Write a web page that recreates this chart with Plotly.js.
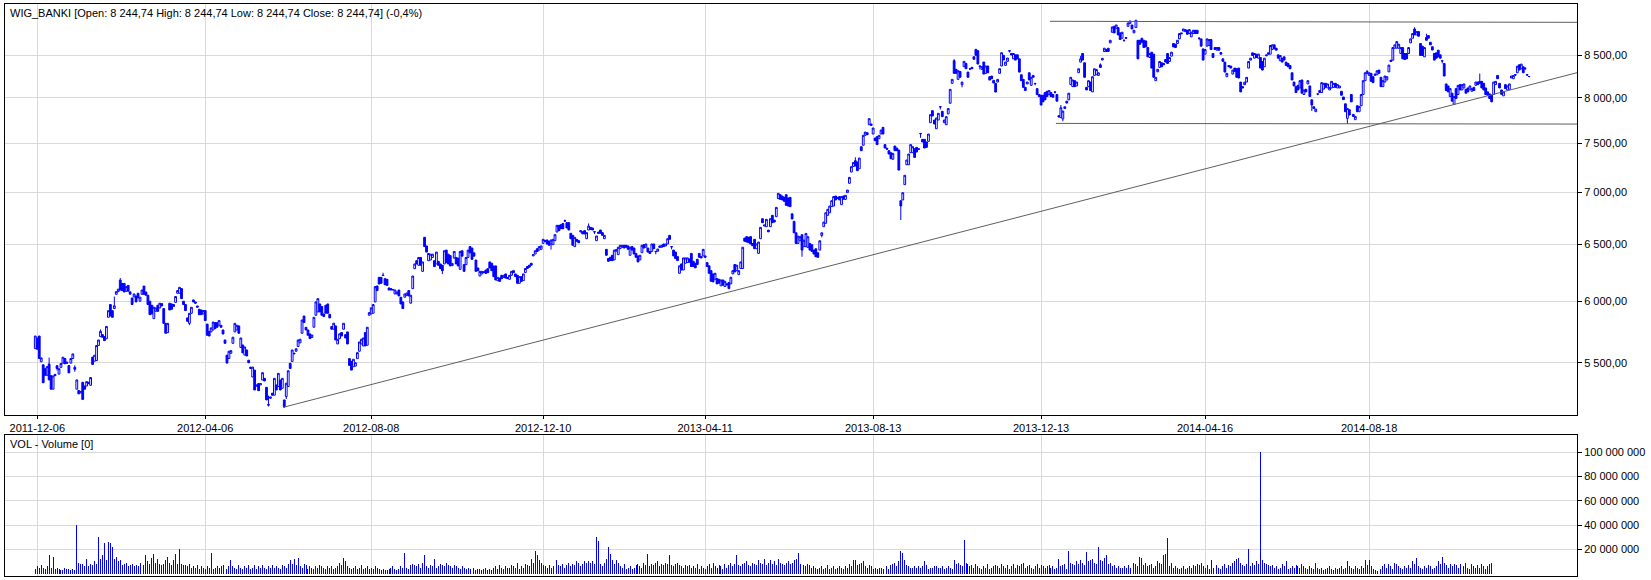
<!DOCTYPE html>
<html>
<head>
<meta charset="utf-8">
<script src="https://cdn.plot.ly/plotly-3.0.1.min.js"></script>
<style>
html,body{margin:0;padding:0;background:#fff;}
#chart{width:1651px;height:580px;}
#chart .barlayer path{shape-rendering:crispEdges !important;}
</style>
</head>
<body>
<div id="chart"></div>
<script>
// ---- tick labels (bar index of each labelled session) ----
const tickIdx = [1, 86, 170, 257, 339, 424, 509, 592, 675];
const tickLabels = ["2011-12-06","2012-04-06","2012-08-08","2012-12-10","2013-04-11","2013-08-13","2013-12-13","2014-04-16","2014-08-18"];
const priceTicks = [5500, 6000, 6500, 7000, 7500, 8000, 8500];
const volTicks = [20000000, 40000000, 60000000, 80000000, 100000000];

// ---- WIG_BANKI daily OHLC ----
const open = [
5611,5696,5712,5507,5484,5454,5403,5490,5400,5298,
5410,5477,5412,5464,5497,5533,5495,5478,5497,5533,
5464,5298,5288,5270,5350,5322,5322,5350,5327,5544,
5512,5517,5636,5707,5723,5707,5690,5865,5972,5920,
5938,6059,6082,6182,6153,6153,6085,6136,6080,6028,
6036,6045,6068,6000,6059,6130,6079,6051,6000,5966,
5854,5915,5966,5943,5980,5938,5815,5739,5983,5977,
5955,5990,6068,6068,6108,6000,5972,5860,5815,5898,
6011,5994,5960,5932,5926,5893,5921,5809,5750,5745,
5761,5821,5821,5799,5799,5761,5680,5559,5533,5574,
5653,5745,5761,5794,5620,5640,5560,5600,5520,5466,
5390,5443,5320,5340,5330,5367,5380,5312,5185,5230,
5268,5253,5330,5318,5367,5305,5218,5243,5318,5496,
5510,5575,5590,5628,5657,5734,5876,5783,5761,5729,
5700,5783,5882,5910,5977,5955,5893,5966,5977,5890,
5789,5767,5794,5648,5690,5740,5767,5723,5745,5532,
5511,5469,5474,5532,5590,5648,5632,5740,5638,5882,
5893,5899,5994,6131,6206,6206,6225,6194,6189,6114,
6108,6096,6062,6062,6096,6034,5994,6034,6050,6091,
5983,6108,6283,6354,6313,6383,6259,6568,6488,6354,
6360,6383,6354,6325,6348,6325,6313,6325,6450,6413,
6400,6310,6377,6383,6377,6277,6444,6319,6319,6383,
6482,6469,6425,6360,6289,6218,6236,6255,6271,6283,
6343,6331,6307,6307,6177,6200,6224,6206,6236,6205,
6189,6224,6265,6236,6224,6154,6212,6177,6248,6302,
6314,6331,6397,6414,6463,6450,6457,6512,6540,6543,
6531,6506,6500,6537,6617,6680,6686,6698,6724,6705,
6705,6605,6586,6482,6549,6537,6617,6620,6630,6555,
6636,6661,6655,6620,6537,6617,6636,6611,6555,6457,
6373,6385,6403,6361,6440,6409,6463,6476,6494,6494,
6488,6403,6482,6469,6420,6397,6361,6426,6500,6476,
6469,6438,6438,6506,6438,6440,6488,6476,6506,6488,
6506,6586,6482,6450,6432,6391,6242,6325,6271,6331,
6337,6370,6420,6349,6331,6367,6420,6391,6397,6397,
6337,6308,6265,6236,6189,6195,6189,6132,6183,6126,
6150,6161,6149,6236,6320,6265,6230,6284,6284,6561,
6574,6568,6574,6510,6549,6463,6420,6555,6743,6673,
6667,6635,6667,6775,6730,6762,6937,6976,6963,6950,
6976,6943,6950,6790,6718,6610,6511,6536,6592,6481,
6481,6475,6511,6499,6450,6462,6426,6450,6585,6667,
6699,6775,6800,6859,6865,6963,6950,6957,6878,6963,
6930,6996,7089,7203,7260,7320,7306,7237,7466,7481,
7587,7615,7702,7710,7601,7558,7573,7551,7601,7673,
7488,7450,7424,7403,7334,7473,7452,7431,6917,6924,
7076,7278,7278,7403,7403,7445,7459,7445,7608,7544,
7544,7516,7523,7724,7856,7753,7658,7753,7901,7849,
7724,7702,7820,7939,8166,8432,8329,8212,8305,8151,
8361,8400,8297,8337,8353,8480,8568,8552,8369,8329,
8416,8282,8369,8243,8251,8200,8166,8181,8282,8369,
8496,8376,8424,8552,8520,8454,8502,8502,8454,8266,
8212,8120,8159,8289,8143,8258,8166,8105,8015,8030,
8030,8060,8075,8038,8060,8038,8068,8038,7801,7779,
7765,7880,7963,7978,8151,8128,8197,8136,8290,8415,
8518,8407,8120,8128,8181,8068,8258,8266,8258,8383,
8440,8542,8542,8582,8647,8778,8852,8827,8836,8770,
8704,8680,8712,8852,8886,8869,8770,8836,8679,8679,
8704,8679,8671,8590,8470,8534,8510,8197,8300,8352,
8407,8399,8446,8518,8423,8486,8639,8631,8639,8696,
8770,8794,8786,8803,8762,8721,8762,8803,8803,8706,
8696,8574,8510,8607,8615,8688,8518,8590,8558,8590,
8530,8454,8415,8243,8375,8368,8274,8344,8336,8344,
8181,8128,8150,8181,8344,8439,8526,8462,8510,8462,
8470,8423,8360,8490,8526,8510,8567,8623,8582,8502,
8431,8462,8478,8415,8399,8375,8289,8181,8128,8143,
8113,8205,8038,8098,8159,8136,7978,7900,7845,8045,
8083,8060,8100,8166,8113,8090,8113,8120,8166,8113,
8113,8075,8010,7933,7771,7867,8038,7815,7757,7911,
7845,7911,8038,8197,8282,8258,8282,8243,8258,8266,
8321,8236,8128,8181,8205,8300,8438,8438,8582,8582,
8582,8518,8590,8518,8518,8518,8647,8704,8819,8745,
8786,8639,8607,8478,8712,8737,8655,8600,8518,8526,
8558,8502,8431,8399,8159,8136,8015,8053,7926,8105,
8038,8151,8090,8113,8098,8113,8098,8075,8120,8143,
8181,8189,8189,8166,8113,8068,8045,8030,8038,8151,
8258,8166,8090,8023,8151,8090,8098,8228,8220,8266,
8289,8383,8336,8360,8344,8266,8245];

const close = [
5712,5606,5533,5538,5347,5403,5470,5368,5298,5398,
5400,5456,5454,5494,5543,5492,5505,5422,5533,5569,
5449,5368,5263,5280,5222,5298,5355,5340,5386,5487,
5559,5636,5680,5750,5702,5675,5790,5920,5876,5865,
5961,6082,6103,6096,6091,6079,6125,6085,6060,5972,
6062,5994,6028,6034,6096,6059,6051,5972,5887,5893,
5949,5943,5915,5983,5960,5815,5734,5815,5926,5932,
5972,6040,6091,6119,6022,5972,5921,5832,5898,5949,
5994,5983,5950,5887,5887,5921,5838,5718,5712,5778,
5826,5772,5783,5838,5783,5728,5653,5497,5590,5595,
5702,5815,5799,5734,5696,5577,5624,5553,5500,5455,
5466,5292,5330,5287,5340,5423,5360,5218,5180,5240,
5253,5380,5292,5418,5292,5380,5167,5343,5438,5455,
5600,5570,5610,5680,5686,5843,5822,5761,5718,5691,
5720,5865,5994,6022,5910,5882,5871,5899,5899,5860,
5767,5816,5680,5686,5730,5712,5816,5696,5648,5479,
5443,5527,5500,5579,5664,5686,5696,5632,5783,5904,
5944,5972,6125,6091,6148,6154,6222,6142,6136,6096,
6096,6100,6096,6079,6045,5977,5938,6062,6070,6045,
6051,6218,6325,6325,6383,6313,6343,6482,6432,6419,
6413,6413,6301,6432,6313,6283,6265,6444,6337,6325,
6307,6330,6438,6325,6307,6438,6395,6259,6383,6450,
6425,6366,6395,6259,6265,6259,6259,6250,6241,6247,
6289,6265,6212,6183,6206,6171,6194,6224,6200,6195,
6224,6259,6247,6212,6154,6212,6171,6236,6284,6284,
6296,6314,6409,6444,6438,6482,6488,6549,6530,6506,
6494,6543,6549,6592,6680,6630,6648,6648,6720,6655,
6636,6555,6494,6568,6531,6518,6630,6600,6599,6611,
6673,6642,6636,6618,6580,6605,6605,6586,6586,6403,
6349,6355,6355,6450,6455,6476,6494,6494,6469,6476,
6457,6476,6450,6414,6385,6343,6403,6494,6469,6506,
6432,6420,6506,6463,6436,6460,6476,6494,6482,6506,
6555,6549,6480,6397,6373,6355,6308,6271,6379,6379,
6379,6340,6302,6302,6290,6320,6385,6379,6457,6385,
6302,6242,6172,6166,6242,6149,6155,6183,6138,6172,
6140,6108,6207,6265,6254,6314,6265,6343,6476,6531,
6524,6518,6506,6490,6463,6506,6524,6661,6705,6683,
6737,6619,6743,6705,6711,6852,6989,6930,6924,6911,
6872,6865,6859,6740,6610,6511,6579,6573,6450,6542,
6604,6573,6450,6438,6414,6390,6384,6536,6610,6711,
6800,6833,6865,6917,6957,6924,6937,6924,6957,6930,
6970,7022,7149,7258,7300,7265,7217,7347,7424,7587,
7622,7594,7768,7695,7666,7530,7488,7587,7644,7601,
7452,7440,7389,7340,7396,7424,7424,7223,6865,6996,
7170,7327,7389,7488,7466,7354,7410,7438,7605,7516,
7452,7459,7601,7812,7797,7710,7775,7827,7898,7790,
7753,7790,7880,8097,8212,8282,8282,8313,8236,8181,
8424,8337,8236,8334,8337,8448,8496,8392,8366,8361,
8274,8369,8290,8204,8220,8170,8066,8212,8337,8528,
8440,8416,8464,8548,8500,8518,8439,8454,8297,8197,
8120,8083,8181,8205,8236,8236,8163,8038,8038,7919,
7955,7978,8015,8083,8015,8008,8065,7963,7786,7889,
7852,7900,7941,8053,8236,8205,8128,8181,8336,8454,
8439,8236,8090,8197,8083,8243,8336,8328,8289,8352,
8460,8582,8566,8542,8679,8844,8770,8869,8745,8688,
8778,8678,8704,8894,8919,8819,8803,8928,8454,8631,
8655,8590,8598,8478,8518,8344,8236,8236,8330,8423,
8360,8383,8415,8399,8470,8534,8598,8590,8679,8762,
8760,8819,8811,8753,8811,8778,8803,8762,8762,8704,
8607,8439,8566,8696,8688,8566,8470,8566,8590,8558,
8510,8423,8297,8282,8360,8344,8321,8305,8236,8228,
8068,8113,8180,8236,8423,8462,8494,8518,8470,8510,
8344,8321,8462,8500,8510,8615,8623,8574,8558,8462,
8494,8415,8439,8375,8360,8336,8205,8136,8060,8090,
8197,8053,8090,8068,8197,8015,7919,7880,7874,8043,
8060,8174,8166,8120,8159,8120,8189,8166,8120,8151,
8136,8030,7980,7845,7882,7808,7955,7793,7793,7845,
7904,8038,8197,8289,8305,8289,8189,8174,8274,8313,
8282,8128,8197,8251,8243,8380,8423,8590,8623,8663,
8631,8590,8454,8446,8454,8590,8696,8762,8745,8786,
8729,8494,8494,8590,8679,8704,8623,8560,8439,8462,
8478,8462,8428,8251,8083,8068,8105,7963,8015,7993,
8143,8090,8151,8159,8053,8068,8136,8105,8083,8181,
8151,8166,8113,8090,8038,8030,7993,7955,8181,8189,
8220,8113,8040,8068,8105,8136,8159,8251,8258,8264,
8367,8321,8391,8290,8342,8264,8245];

const high = [
5712,5696,5712,5538,5484,5454,5470,5540,5400,5398,
5410,5480,5454,5494,5543,5533,5505,5478,5533,5569,
5480,5368,5288,5280,5350,5322,5355,5350,5386,5544,
5559,5636,5680,5765,5723,5707,5790,5920,5972,5920,
6040,6082,6103,6200,6153,6153,6125,6136,6080,6028,
6062,6045,6068,6034,6096,6130,6079,6051,6000,5966,
5949,5943,5966,5983,5980,5938,5815,5815,5983,5977,
5972,6040,6091,6119,6108,6000,5972,5860,5898,5949,
6011,5994,5960,5932,5926,5921,5921,5809,5750,5778,
5826,5821,5821,5838,5799,5761,5680,5559,5590,5595,
5702,5815,5799,5794,5696,5640,5624,5600,5520,5466,
5466,5443,5330,5340,5340,5423,5380,5312,5250,5240,
5268,5380,5330,5418,5367,5380,5218,5343,5438,5496,
5600,5575,5610,5680,5686,5843,5876,5783,5761,5729,
5720,5865,5994,6022,5977,5955,5893,5966,5977,5890,
5789,5816,5794,5686,5730,5740,5816,5723,5745,5532,
5511,5527,5500,5579,5664,5686,5696,5740,5783,5904,
5944,5972,6125,6131,6206,6206,6247,6194,6189,6114,
6108,6100,6096,6079,6096,6034,5994,6062,6070,6091,
6051,6218,6325,6354,6383,6383,6343,6568,6488,6419,
6413,6413,6354,6432,6348,6325,6313,6444,6450,6413,
6400,6330,6438,6383,6377,6438,6444,6319,6383,6450,
6482,6469,6425,6360,6289,6259,6259,6255,6271,6283,
6343,6331,6307,6307,6206,6200,6224,6224,6236,6205,
6224,6259,6265,6236,6224,6212,6212,6236,6284,6302,
6314,6331,6409,6444,6463,6482,6488,6549,6540,6543,
6531,6543,6549,6592,6680,6680,6686,6698,6735,6705,
6705,6605,6586,6568,6549,6537,6630,6620,6630,6611,
6698,6661,6655,6620,6580,6617,6636,6611,6586,6457,
6373,6385,6403,6450,6455,6476,6494,6494,6494,6494,
6488,6476,6482,6469,6420,6397,6403,6494,6500,6506,
6469,6438,6506,6506,6438,6460,6488,6494,6506,6506,
6555,6586,6482,6450,6432,6391,6308,6325,6379,6379,
6379,6370,6420,6349,6331,6367,6420,6391,6457,6397,
6337,6308,6265,6236,6242,6195,6189,6183,6183,6172,
6150,6161,6207,6265,6320,6314,6265,6343,6476,6561,
6574,6568,6574,6510,6549,6506,6524,6661,6743,6683,
6737,6635,6743,6775,6730,6852,6989,6976,6963,6950,
6976,6943,6950,6790,6718,6610,6579,6573,6592,6542,
6604,6573,6511,6499,6450,6462,6426,6536,6610,6711,
6800,6833,6865,6917,6957,6963,6950,6957,6957,6963,
6970,7022,7149,7258,7300,7355,7306,7347,7466,7587,
7622,7615,7768,7710,7666,7558,7573,7587,7644,7673,
7488,7450,7424,7403,7396,7473,7452,7431,6917,6996,
7170,7327,7389,7488,7466,7445,7459,7445,7608,7544,
7544,7516,7601,7812,7856,7753,7775,7827,7901,7849,
7753,7790,7880,8097,8212,8450,8329,8313,8305,8181,
8424,8400,8297,8337,8353,8480,8568,8552,8369,8361,
8416,8369,8369,8243,8251,8200,8166,8212,8337,8528,
8496,8416,8464,8552,8520,8518,8502,8502,8454,8266,
8212,8120,8181,8289,8236,8258,8166,8105,8038,8030,
8030,8060,8075,8083,8060,8038,8068,8038,7801,7920,
7852,7900,7963,8053,8236,8205,8197,8181,8336,8490,
8518,8407,8120,8197,8181,8243,8336,8328,8289,8400,
8460,8582,8566,8582,8679,8844,8852,8869,8836,8770,
8778,8680,8712,8894,8919,8869,8803,8928,8679,8679,
8704,8679,8671,8590,8518,8534,8510,8236,8330,8423,
8407,8399,8446,8518,8470,8534,8639,8631,8679,8762,
8770,8819,8811,8803,8811,8778,8803,8803,8803,8706,
8696,8574,8566,8696,8688,8688,8518,8590,8590,8590,
8530,8454,8415,8282,8375,8368,8321,8344,8336,8344,
8181,8128,8180,8236,8423,8462,8526,8518,8510,8510,
8470,8423,8462,8500,8526,8615,8623,8623,8582,8502,
8494,8462,8478,8415,8399,8375,8289,8181,8128,8143,
8197,8205,8090,8098,8197,8136,7978,7900,7874,8045,
8083,8174,8166,8166,8159,8120,8189,8166,8166,8151,
8136,8075,8010,7933,7882,7867,8038,7815,7793,7911,
7904,8038,8197,8289,8320,8289,8282,8243,8274,8313,
8321,8236,8197,8251,8243,8380,8438,8590,8623,8663,
8631,8590,8590,8518,8518,8590,8696,8762,8840,8786,
8786,8639,8607,8590,8760,8737,8655,8600,8518,8526,
8558,8502,8431,8399,8159,8136,8105,8053,8015,8105,
8143,8151,8151,8159,8098,8113,8136,8105,8120,8181,
8181,8280,8189,8166,8113,8068,8045,8030,8181,8189,
8258,8166,8090,8068,8151,8136,8159,8251,8258,8266,
8367,8383,8391,8360,8344,8266,8245];

const low = [
5611,5606,5533,5507,5347,5403,5403,5368,5298,5298,
5400,5440,5412,5464,5497,5492,5495,5422,5497,5533,
5430,5298,5263,5270,5222,5298,5322,5340,5327,5487,
5512,5517,5636,5707,5702,5675,5690,5865,5876,5865,
5938,6059,6082,6096,6091,6079,6085,6085,6060,5972,
6036,5994,6028,6000,6059,6059,6051,5972,5887,5893,
5854,5915,5915,5943,5960,5815,5734,5739,5926,5932,
5955,5990,6068,6068,6022,5972,5921,5832,5800,5898,
5994,5983,5950,5887,5887,5893,5838,5718,5712,5745,
5761,5772,5783,5799,5783,5728,5653,5497,5533,5574,
5653,5745,5761,5734,5620,5577,5560,5553,5500,5455,
5390,5292,5320,5287,5330,5367,5360,5218,5170,5230,
5253,5253,5292,5318,5292,5305,5160,5225,5318,5455,
5510,5570,5590,5628,5657,5734,5822,5761,5718,5691,
5700,5783,5882,5910,5910,5882,5871,5899,5899,5860,
5767,5767,5680,5648,5690,5712,5767,5696,5648,5479,
5443,5469,5474,5532,5590,5648,5632,5632,5638,5882,
5893,5899,5994,6091,6148,6154,6222,6142,6136,6096,
6096,6096,6062,6062,6045,5977,5938,6034,6050,6045,
5983,6108,6283,6325,6313,6313,6259,6482,6432,6354,
6360,6383,6301,6325,6313,6283,6235,6325,6337,6325,
6307,6310,6377,6325,6307,6277,6395,6259,6319,6383,
6425,6366,6395,6259,6265,6218,6236,6250,6241,6247,
6289,6265,6212,6183,6177,6171,6194,6206,6200,6195,
6189,6224,6247,6212,6154,6154,6171,6177,6248,6284,
6296,6314,6397,6414,6438,6450,6457,6512,6530,6506,
6494,6455,6500,6537,6617,6630,6648,6648,6720,6655,
6636,6555,6494,6482,6531,6518,6617,6600,6599,6555,
6636,6642,6636,6600,6537,6605,6605,6586,6555,6403,
6349,6355,6355,6361,6440,6409,6463,6476,6469,6476,
6457,6403,6450,6414,6385,6343,6361,6426,6469,6476,
6432,6420,6438,6463,6412,6440,6476,6476,6482,6488,
6506,6549,6457,6397,6373,6355,6242,6271,6271,6331,
6337,6340,6302,6302,6290,6320,6385,6379,6397,6385,
6302,6242,6172,6166,6189,6149,6155,6132,6138,6126,
6140,6108,6149,6236,6254,6265,6230,6284,6284,6531,
6524,6518,6506,6490,6463,6463,6420,6555,6705,6673,
6667,6619,6667,6705,6711,6762,6937,6930,6924,6911,
6872,6865,6859,6740,6610,6511,6511,6536,6390,6481,
6481,6475,6450,6438,6414,6390,6384,6450,6567,6667,
6699,6775,6800,6859,6865,6924,6937,6924,6878,6930,
6930,6996,7089,7203,7260,7265,7217,7237,7424,7481,
7587,7594,7702,7695,7601,7530,7488,7551,7601,7601,
7452,7440,7389,7340,7334,7424,7424,7223,6730,6924,
7076,7278,7278,7403,7403,7354,7410,7438,7560,7516,
7452,7459,7523,7724,7797,7710,7658,7753,7870,7790,
7724,7702,7820,7939,8166,8282,8282,8212,8236,8120,
8361,8337,8236,8320,8337,8448,8496,8392,8329,8329,
8274,8282,8290,8204,8220,8170,8066,8181,8282,8369,
8440,8376,8424,8530,8500,8454,8439,8454,8297,8197,
8120,8083,8159,8205,8143,8236,8143,8038,8015,7919,
7955,7978,8015,8038,8015,8008,8050,7963,7786,7779,
7740,7880,7941,7978,8151,8128,8128,8136,8290,8415,
8439,8236,8090,8128,8083,8068,8258,8266,8258,8352,
8440,8542,8542,8542,8647,8778,8770,8827,8745,8688,
8704,8660,8704,8852,8886,8819,8770,8836,8454,8631,
8655,8590,8598,8478,8470,8344,8236,8197,8300,8352,
8360,8383,8415,8399,8423,8486,8598,8590,8639,8696,
8760,8794,8786,8753,8762,8721,8762,8762,8762,8680,
8607,8439,8510,8607,8615,8566,8470,8566,8558,8558,
8510,8423,8297,8243,8360,8344,8274,8305,8236,8228,
8068,8113,8150,8181,8344,8439,8494,8462,8470,8462,
8344,8321,8360,8490,8510,8510,8567,8574,8558,8462,
8431,8415,8439,8375,8360,8336,8205,8136,8060,8090,
8113,8053,8038,8068,8159,8015,7852,7880,7845,8030,
8060,8060,8100,8120,8113,8090,8113,8120,8120,8113,
8113,8030,7980,7845,7710,7808,7955,7793,7757,7845,
7845,7911,8038,8197,8282,8258,8189,8174,8258,8266,
8282,8128,8128,8181,8205,8300,8423,8438,8582,8582,
8582,8518,8454,8446,8454,8518,8647,8704,8745,8745,
8729,8494,8494,8478,8679,8704,8623,8560,8439,8462,
8478,8462,8399,8251,8083,8068,8015,7963,7926,7993,
8038,8090,8090,8113,8053,8068,8098,8075,8083,8143,
8151,8166,8113,8090,8038,8030,7993,7955,8038,8151,
8220,8113,8040,8023,8105,8090,8098,8228,8220,8250,
8289,8321,8336,8290,8320,8251,8245];

// ---- volume, millions of shares ----
const volM = [
4,6,5,7,5,4,6,15,5,14,
4,5,4,3,3,5,4,4,3,4,
3,40,9,8,8,6,12,6,8,7,
10,8,30,12,15,25,11,26,25,22,
12,14,10,11,7,8,9,6,7,8,
6,7,6,9,6,7,15,10,8,13,
16,9,12,8,7,8,11,14,9,7,
11,16,8,20,8,7,7,6,8,5,
6,5,7,4,6,5,4,6,5,17,
4,5,6,5,6,7,5,4,6,11,
6,5,4,7,5,4,6,5,7,4,
5,7,4,6,5,7,5,4,6,5,
7,5,6,5,4,7,6,5,8,11,
8,12,7,13,6,5,8,7,4,6,
5,4,6,5,7,6,5,4,6,5,
6,4,5,6,9,7,13,10,6,5,
4,5,6,4,5,7,4,5,6,4,
5,4,6,5,4,3,4,3,3,4,
5,6,4,3,4,6,5,17,5,4,
7,8,7,6,8,5,9,15,6,5,
7,6,12,5,6,8,7,6,9,7,
6,5,7,6,5,4,6,5,4,5,
4,4,5,3,4,4,3,4,5,3,
4,3,5,6,4,7,5,4,6,5,
5,7,6,5,9,4,6,5,8,7,
6,12,9,19,15,11,9,7,6,5,
7,5,6,9,11,7,6,8,5,7,
9,6,8,7,10,9,6,8,10,9,
10,9,10,8,30,27,8,6,9,12,
22,16,11,8,11,9,6,5,8,4,
5,6,4,5,7,8,6,5,9,7,
16,6,8,7,9,10,6,8,7,9,
8,15,7,6,8,9,7,6,5,7,
6,7,5,6,5,8,4,6,5,4,
6,8,5,9,6,5,7,6,4,8,
5,7,9,6,8,15,7,6,8,9,
10,7,6,9,8,7,11,9,8,12,
7,9,11,8,10,7,12,9,8,7,
9,10,8,9,11,12,17,8,9,7,
6,8,7,5,6,5,4,5,6,4,
5,7,4,5,6,4,5,6,5,4,
6,5,8,6,11,11,7,8,9,10,
6,5,7,6,4,5,4,5,5,4,
5,6,4,7,8,9,6,10,19,17,
11,7,6,5,5,6,5,6,5,6,
10,7,4,5,5,6,6,5,5,6,
4,5,6,5,4,11,8,9,7,6,
28,9,8,6,7,5,8,6,5,4,
6,5,8,4,5,6,7,6,5,8,
6,5,7,4,6,8,5,7,6,8,
9,5,6,7,5,4,6,8,5,7,
6,5,6,7,5,6,4,5,12,6,
7,8,4,19,9,8,7,10,8,11,
9,7,18,10,11,12,9,8,22,11,
10,13,15,8,9,6,7,5,6,5,
5,6,5,7,5,6,9,8,6,14,
13,7,9,6,7,8,5,6,10,9,
8,15,16,29,6,9,5,6,5,4,
5,6,4,5,6,5,7,6,8,7,
9,6,5,7,4,11,5,6,7,5,
4,6,8,5,7,6,9,10,12,13,
9,7,6,8,20,6,9,7,10,8,
100,11,9,8,7,6,7,5,6,4,
5,8,6,10,4,5,6,5,7,6,
5,8,6,5,4,6,5,4,9,5,
4,5,3,4,5,6,4,3,5,4,
5,6,4,5,10,6,5,4,6,5,
4,6,5,11,7,11,6,4,3,2,
5,4,6,8,5,8,6,4,9,8,
6,5,4,6,5,7,5,10,8,13,
6,5,4,6,5,7,6,4,5,6,
10,8,14,9,7,5,8,6,8,7,
5,8,7,6,9,5,4,8,6,5,
7,5,8,6,4,6,8,9,0,0,
0,0,0,0,0,0,0,0,0,0,
0,0,0,0,0,0,0];

// ---- drawn lines (bar index, price) ----
const trendX = [125.5, 780.2];
const trendY = [5164, 8290];
const resistX = [513.5, 780.2];
const resistY = [8915, 8902];
const supportX = [516.5, 780.2];
const supportY = [7716, 7709];

const titleText = "WIG_BANKI [Open: 8 244,74 High: 8 244,74 Low: 8 244,74 Close: 8 244,74] (-0,4%)";
const volTitle = "VOL - Volume [0]";

// ---- build ----
const idx = open.map((_, i) => i);
const vol = volM.map(v => v * 1e6);
const BLUE = '#0000ff';
const GRID = '#d9d9d9';
const LINEC = '#5f5f5f';

const traces = [
  {type: 'scatter', mode: 'lines', x: trendX, y: trendY, xaxis: 'x', yaxis: 'y',
   line: {color: LINEC, width: 1}, hoverinfo: 'skip'},
  {type: 'scatter', mode: 'lines', x: resistX, y: resistY, xaxis: 'x', yaxis: 'y',
   line: {color: LINEC, width: 1}, hoverinfo: 'skip'},
  {type: 'scatter', mode: 'lines', x: supportX, y: supportY, xaxis: 'x', yaxis: 'y',
   line: {color: LINEC, width: 1}, hoverinfo: 'skip'},
  {type: 'candlestick', x: idx, open: open, high: high, low: low, close: close,
   xaxis: 'x', yaxis: 'y', whiskerwidth: 0,
   increasing: {line: {color: BLUE, width: 1}, fillcolor: '#ffffff'},
   decreasing: {line: {color: BLUE, width: 1}, fillcolor: BLUE}},
  {type: 'bar', x: idx, y: vol, xaxis: 'x2', yaxis: 'y2', width: 0.5,
   marker: {color: BLUE, line: {width: 0}}}
];

const xRange = [-15.33, 780.2];
const yMin = 5108, yMax = 9136;
const plotTop = 4, plotBottom = 576, mainBottom = 415, volTop = 435;
const ph = plotBottom - plotTop;

const axisCommon = {
  showline: true, linecolor: '#000', linewidth: 1, mirror: true,
  showgrid: true, gridcolor: GRID, gridwidth: 1, zeroline: false, fixedrange: true
};

const layout = {
  width: 1651, height: 580,
  margin: {l: 5, r: 74, t: plotTop, b: 580 - plotBottom, pad: 0},
  paper_bgcolor: '#ffffff', plot_bgcolor: '#ffffff',
  showlegend: false,
  separators: ', ',
  boxgap: 0.1, boxgroupgap: 0,
  bargap: 0.5,
  font: {family: 'Liberation Sans, Arial, sans-serif', size: 11, color: '#000'},
  xaxis: Object.assign({}, axisCommon, {
    domain: [0, 1], anchor: 'y', range: xRange, type: 'linear',
    tickmode: 'array', tickvals: tickIdx, ticktext: tickLabels,
    ticks: 'outside', ticklen: 3, tickcolor: '#000',
    rangeslider: {visible: false},
    tickfont: {size: 11, color: '#000'}
  }),
  yaxis: Object.assign({}, axisCommon, {
    domain: [(plotBottom - mainBottom) / ph, 1], anchor: 'x', side: 'right', type: 'log',
    range: [Math.log10(yMin), Math.log10(yMax)],
    tickmode: 'array', tickvals: priceTicks, tickformat: ',.2f',
    ticks: 'outside', ticklen: 4, tickcolor: '#000',
    tickfont: {size: 11, color: '#000'}
  }),
  xaxis2: Object.assign({}, axisCommon, {
    domain: [0, 1], anchor: 'y2', range: xRange, type: 'linear',
    tickmode: 'array', tickvals: tickIdx, showticklabels: false, ticks: ''
  }),
  yaxis2: Object.assign({}, axisCommon, {
    domain: [0, (plotBottom - volTop) / ph], anchor: 'x2', side: 'right',
    range: [-2e6, 114.3e6],
    tickmode: 'array', tickvals: volTicks, tickformat: ',d',
    ticks: 'outside', ticklen: 4, tickcolor: '#000',
    tickfont: {size: 11, color: '#000'}
  }),
  annotations: [
    {xref: 'paper', yref: 'paper', x: 3 / 1572, y: (plotBottom - 13.5) / ph,
     xanchor: 'left', yanchor: 'middle', showarrow: false, text: titleText,
     font: {size: 11, color: '#000'}},
    {xref: 'paper', yref: 'paper', x: 3 / 1572, y: (plotBottom - 444.3) / ph,
     xanchor: 'left', yanchor: 'middle', showarrow: false, text: volTitle,
     font: {size: 11, color: '#000'}}
  ]
};

Plotly.newPlot('chart', traces, layout, {staticPlot: true, displayModeBar: false});
</script>
</body>
</html>
